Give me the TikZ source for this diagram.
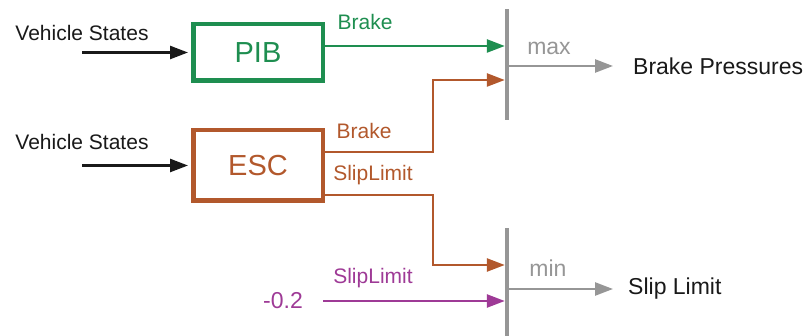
\documentclass[tikz,border=0pt]{standalone}
\usepackage{fontspec}
\setmainfont{Liberation Sans}
\definecolor{PibGreen}{RGB}{30, 142, 80}
\definecolor{EscBrown}{RGB}{178, 88, 44}
\definecolor{LimitPurple}{RGB}{158, 58, 150}
\definecolor{BarGray}{RGB}{150, 150, 150}
\definecolor{InkBlack}{RGB}{25, 25, 25}
\usetikzlibrary{
    arrows.meta,
    calc,
    positioning
    }
\tikzset{
    block/.style={draw, line width=4.5pt, minimum width=129.5pt, inner sep=0pt, font=\fontsize{29}{32}\selectfont},
    bar/.style={fill=BarGray, minimum width=4pt, inner sep=0pt},
    wire/.style={line width=2.5pt, -{Triangle[length=18pt,width=13pt]}},
    label/.style={inner sep=0pt, anchor=center, font=\fontsize{21}{24}\selectfont},
    bigtext/.style={inner sep=0pt, font=\fontsize{23}{26}\selectfont}
}

\begin{document}
\begin{tikzpicture}[x=1pt, y=-1pt]

    \useasboundingbox (0,0) rectangle (805,336);

    %PIB
    \node[block, PibGreen, minimum height=56.5pt] (pib) at (258,52.5) {PIB};
    \node[label, text=InkBlack] (statesA) at (82,33) {Vehicle States};
    \draw[wire, InkBlack, shorten >=3pt] (statesA.south |- pib.west) -- (pib.west);
    \node[label, text=PibGreen] (pibbrake) at (365,22) {Brake};

    %ESC
    \node[block, EscBrown, minimum height=70.5pt] (esc) at (258,165.5) {ESC};
    \node[label, text=InkBlack] (statesB) at (82,142) {Vehicle States};
    \draw[wire, InkBlack, shorten >=3pt] (statesB.south |- esc.west) -- (esc.west);
    \node[label, text=EscBrown] (escbrake) at (364,131) {Brake};
    \node[label, text=EscBrown] (escslip) at (373,175) {SlipLimit};

    %Max
    \node[bar, minimum height=111pt] (maxbar) at (507,64.5) {};
    \node[bigtext, text=BarGray] (maxlabel) at (549,48) {max};
    \node[bigtext, text=InkBlack, anchor=west] (pressures) at (633,66) {Brake Pressures};
    \draw[wire, PibGreen] ([yshift=6.5pt]pib.east) -- ([yshift=6.5pt]pib.east -| maxbar.west);
    \draw[wire, EscBrown] ([yshift=13.5pt]esc.east) -- ++(108,0) |- ([yshift=-15.5pt]maxbar.west);
    \draw[wire, BarGray] (maxbar.east |- pressures.west) -- ([xshift=-20pt]pressures.west);

    %Min
    \node[bar, minimum height=112pt] (minbar) at (507,284) {};
    \node[bigtext, text=BarGray] (minlabel) at (548,268) {min};
    \node[bigtext, text=InkBlack, anchor=west] (sliplimit) at (628,289) {Slip Limit};
    \node[bigtext, text=LimitPurple] (lowlimit) at (283,301) {-0.2};
    \node[label, text=LimitPurple] (limitslip) at (373,278) {SlipLimit};
    \draw[wire, EscBrown] ([yshift=-29.5pt]esc.east) -- ++(108,0) |- ([yshift=19pt]minbar.west);
    \draw[wire, LimitPurple] ([xshift=20pt]lowlimit.east) -- (lowlimit.east -| minbar.west);
    \draw[wire, BarGray] (minbar.east |- sliplimit.west) -- ([xshift=-15pt]sliplimit.west);

\end{tikzpicture}
\end{document}
